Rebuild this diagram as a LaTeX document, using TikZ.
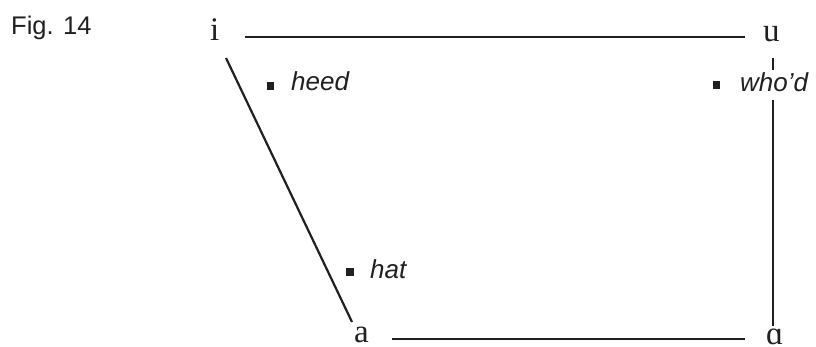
\documentclass[tikz,border=0pt]{standalone}
\usepackage{fontspec}
\setmainfont{Liberation Serif}
\setsansfont{Liberation Sans}
\definecolor{ink}{HTML}{231F20}
\begin{document}
\begin{tikzpicture}[x=1pt,y=-1pt,
  vowel/.style={anchor=base west,inner sep=0pt,font=\fontsize{33}{33}\selectfont,text=ink},
  word/.style={anchor=base west,inner sep=0pt,font=\sffamily\itshape\fontsize{26}{26}\selectfont,text=ink},
  dot/.style={fill=ink,inner sep=0pt,minimum width=7.5pt,minimum height=8pt},
  edge/.style={draw=ink,line width=2.2pt}]
\useasboundingbox (0,0) rectangle (816,347);
\node[anchor=base west,inner sep=0pt,font=\sffamily\fontsize{25.5}{25.5}\selectfont,text=ink] (fig) at (11,35) {Fig. 14};
% vowel symbols
\node[vowel] (i) at (210,41) {i};
\node[vowel] (u) at (763,42) {u};
\node[vowel] (a) at (354,342) {a};
\node[vowel] (aa) at (766,344) {ɑ};
% word labels
\node[dot] (heeddot) at (270.5,86) {};
\node[word] (heed) at (291,91) {heed};
\node[dot] (whodot) at (716.5,85) {};
\node[word] (whod) at (740,92) {who’d};
\node[dot] (hatdot) at (350,272) {};
\node[word] (hat) at (370,279) {hat};
% connector end points
\coordinate (iR) at (245,37);
\coordinate (uL) at (745,37);
\coordinate (iB) at (226,58);
\coordinate (aT) at (352,322);
\coordinate (uB) at (773,58);
\coordinate (whodT) at (773,70);
\coordinate (whodB) at (773,100);
\coordinate (aaT) at (773,326);
\coordinate (aR) at (392,339);
\coordinate (aaL) at (745,339);
% connectors
\draw[edge] (iR) -- (uL);
\draw[edge] (iB) -- (aT);
\draw[edge] (uB) -- (whodT);
\draw[edge] (whodB) -- (aaT);
\draw[edge] (aR) -- (aaL);
\end{tikzpicture}
\end{document}
